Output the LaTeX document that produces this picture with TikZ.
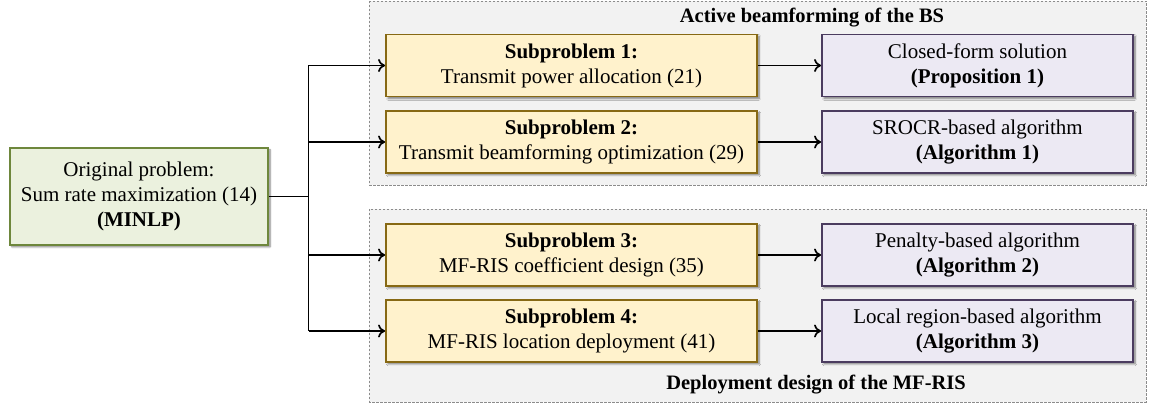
\documentclass[tikz,border=0pt]{standalone}
\usepackage{fontspec}
\setmainfont{Liberation Serif}
\usetikzlibrary{arrows.meta,shadows.blur}
\definecolor{grpfill}{RGB}{242,242,242}
\definecolor{grpline}{RGB}{140,140,140}
\definecolor{gfill}{RGB}{235,241,222}
\definecolor{gline}{RGB}{110,135,60}
\definecolor{yfill}{RGB}{255,242,204}
\definecolor{yline}{RGB}{135,105,20}
\definecolor{pfill}{RGB}{236,233,243}
\definecolor{pline}{RGB}{75,60,95}
\tikzset{
  txt/.style={font=\fontsize{21}{25}\selectfont, align=center, inner sep=0pt},
  boxbase/.style={txt, draw, line width=1.8pt, blur shadow={shadow xshift=2pt, shadow yshift=-2pt, shadow blur steps=6, shadow opacity=50}},
  greenbox/.style={boxbase, fill=gfill, draw=gline, minimum width=258pt, minimum height=97pt},
  subbox/.style={boxbase, fill=yfill, draw=yline, minimum width=371pt, minimum height=62pt},
  solbox/.style={boxbase, fill=pfill, draw=pline, minimum width=311pt, minimum height=62pt},
  group/.style={draw=grpline, fill=grpfill, line width=0.7pt, dash pattern=on 2.5pt off 1.5pt},
  conn/.style={line width=1.7pt, -{To[length=7pt,width=13pt]}},
  plain/.style={line width=1.7pt},
  grptitle/.style={font=\fontsize{20.5}{24}\selectfont\bfseries, inner sep=0pt}
}
\begin{document}
\begin{tikzpicture}[x=1pt,y=1pt]
\useasboundingbox (0,0) rectangle (1149,409);
% groups
\draw[group] (369,408) rectangle (1146,224);
\draw[group] (369,200) rectangle (1146,7);
\node[grptitle] (t1) at (812,391) {Active beamforming of the BS};
\node[grptitle] (t2) at (816,24) {Deployment design of the MF-RIS};
% nodes
\node[greenbox] (orig) at (139,212.5) {Original problem:\\Sum rate maximization (14)\\\textbf{(MINLP)}};
\node[subbox] (s1) at (571.5,343.5) {\textbf{Subproblem 1:}\\Transmit power allocation (21)};
\node[subbox] (s2) at (571.5,267) {\textbf{Subproblem 2:}\\Transmit beamforming optimization (29)};
\node[subbox] (s3) at (571.5,154) {\textbf{Subproblem 3:}\\MF-RIS coefficient design (35)};
\node[subbox] (s4) at (571.5,78) {\textbf{Subproblem 4:}\\MF-RIS location deployment (41)};
\node[solbox] (a1) at (977.5,343.5) {Closed-form solution\\\textbf{(Proposition 1)}};
\node[solbox] (a2) at (977.5,267) {SROCR-based algorithm\\\textbf{(Algorithm 1)}};
\node[solbox] (a3) at (977.5,154) {Penalty-based algorithm\\\textbf{(Algorithm 2)}};
\node[solbox] (a4) at (977.5,78) {Local region-based algorithm\\\textbf{(Algorithm 3)}};
% bus
\coordinate (bus) at (308.5,212.5);
\coordinate (b1) at (308.5,343.5);
\coordinate (b4) at (308.5,78);
\draw[plain] (orig.east) -- (bus);
\draw[plain] (b1) -- (b4);
\draw[conn] (b1) -- (s1.west);
\draw[conn] (s2.west -| bus) -- (s2.west);
\draw[conn] (s3.west -| bus) -- (s3.west);
\draw[conn] (b4) -- (s4.west);
\draw[conn] (s1) -- (a1);
\draw[conn] (s2) -- (a2);
\draw[conn] (s3) -- (a3);
\draw[conn] (s4) -- (a4);
\end{tikzpicture}
\end{document}
